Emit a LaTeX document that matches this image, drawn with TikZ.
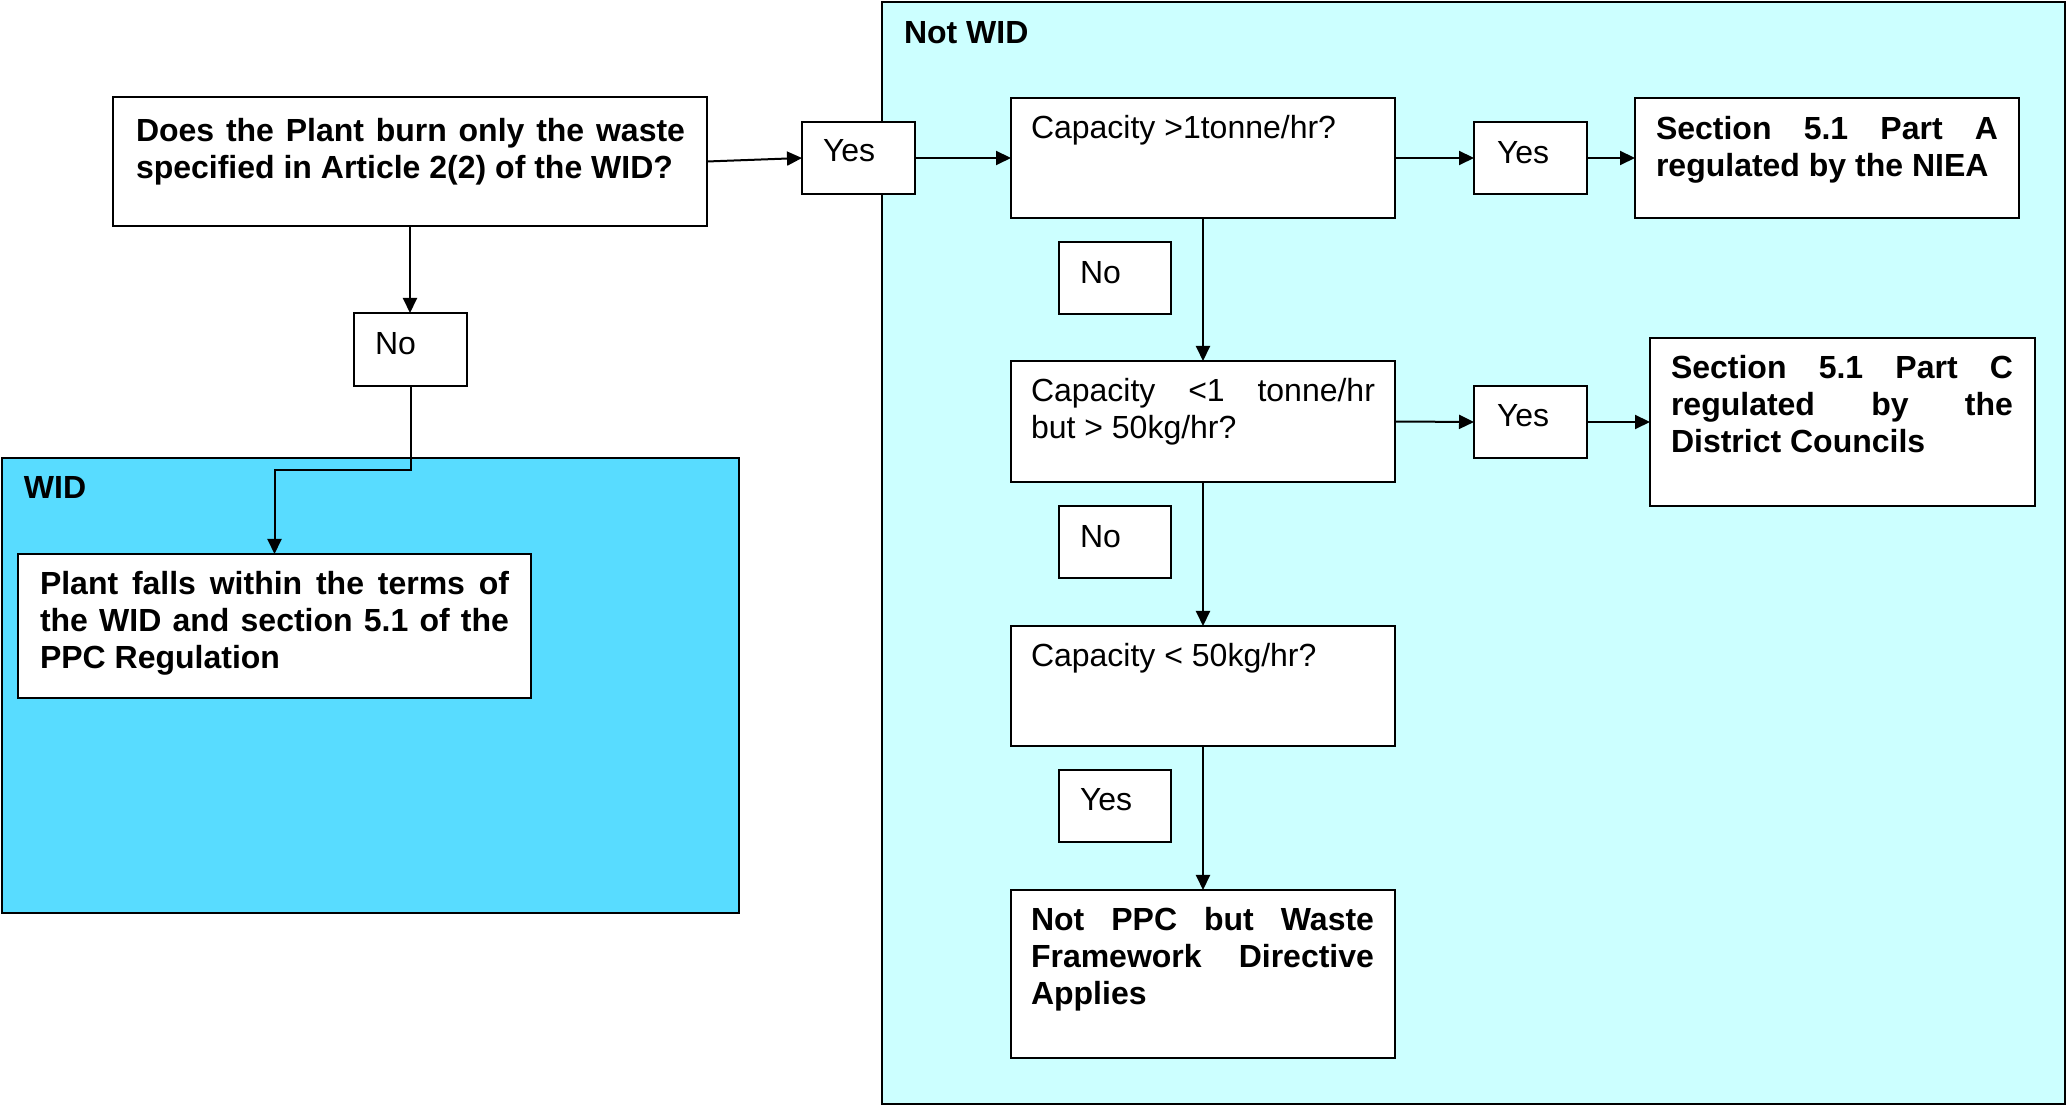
\documentclass[tikz,border=0pt]{standalone}
\usepackage{fontspec}
\setmainfont{Liberation Sans}
\usetikzlibrary{arrows.meta}
\definecolor{widfill}{RGB}{88,220,255}
\definecolor{notwidfill}{RGB}{204,255,255}
\tikzset{
  panel/.style={draw=black, line width=1.2pt, inner sep=0pt, outer sep=0pt},
  card/.style={draw=black, fill=white, line width=1.2pt, inner sep=0pt, outer sep=0pt},
  lbl/.style={anchor=base west, inner sep=0pt, outer sep=0pt, font=\fontsize{16}{18.5}\selectfont},
  lblb/.style={lbl, font=\fontsize{16}{18.5}\selectfont\bfseries},
  para/.style={text width={#1*0.5pt}, align=justify},
  flow/.style={-{Triangle[length=7.5pt,width=7pt]}, line width=1pt},
}
% box given by its top-left and bottom-right corners
\newcommand\rectnode[6]{%
  \node[#1, anchor=north west, minimum width={(#5-#3)*0.5pt}, minimum height={(#6-#4)*0.5pt}] (#2) at (#3,#4) {};}
\begin{document}
\begin{tikzpicture}[x=0.5pt,y=-0.5pt]
\useasboundingbox (0,0) rectangle (2069,1106);
\fill[white] (0,0) rectangle (2069,1106);

% regions
\rectnode{panel, fill=notwidfill}{notwid}{882}{2}{2065}{1104}
\rectnode{panel, fill=widfill}{wid}{2}{458}{739}{913}

% boxes
\rectnode{card}{q}{113}{97}{707}{226}
\rectnode{card}{yesA}{802}{122}{915}{194}
\rectnode{card}{noA}{354}{313}{467}{386}
\rectnode{card}{plant}{18}{554}{531}{698}
\rectnode{card}{capA}{1011}{98}{1395}{218}
\rectnode{card}{yesB}{1474}{122}{1587}{194}
\rectnode{card}{partA}{1635}{98}{2019}{218}
\rectnode{card}{noB}{1059}{242}{1171}{314}
\rectnode{card}{capB}{1011}{361}{1395}{482}
\rectnode{card}{yesC}{1474}{386}{1587}{458}
\rectnode{card}{partC}{1650}{338}{2035}{506}
\rectnode{card}{noC}{1059}{506}{1171}{578}
\rectnode{card}{capC}{1011}{626}{1395}{746}
\rectnode{card}{yesD}{1059}{770}{1171}{842}
\rectnode{card}{final}{1011}{890}{1395}{1058}

% texts
\node[lblb] (notwidT) at (904,44) {Not WID};
\node[lblb] (widT) at (24,499) {WID};
\node[lblb, para=549] (qT) at (136,142) {Does the Plant burn only the waste\linebreak specified in Article 2(2) of the WID?};
\node[lbl] (yesAT) at (823,162) {Yes};
\node[lbl] (noAT) at (375,355) {No};
\node[lblb, para=469] (plantT) at (40,595) {Plant falls within the terms of\linebreak the WID and section 5.1 of the\linebreak PPC Regulation};
\node[lbl] (capAT) at (1031,139) {Capacity >1tonne/hr?};
\node[lbl] (yesBT) at (1497,164) {Yes};
\node[lblb, para=342] (partAT) at (1656,140) {Section 5.1 Part A\linebreak regulated by the NIEA};
\node[lbl] (noBT) at (1080,284) {No};
\node[lbl, para=344] (capBT) at (1031,402) {Capacity <1 tonne/hr\linebreak but > 50kg/hr?};
\node[lbl] (yesCT) at (1497,427) {Yes};
\node[lblb, para=342] (partCT) at (1671,379) {Section 5.1 Part C\linebreak regulated by the\linebreak District Councils};
\node[lbl] (noCT) at (1080,548) {No};
\node[lbl] (capCT) at (1031,667) {Capacity < 50kg/hr?};
\node[lbl] (yesDT) at (1080,811) {Yes};
\node[lblb, para=343] (finalT) at (1031,931) {Not PPC but Waste\linebreak Framework Directive\linebreak Applies};

% connectors
\draw[flow] (q.east) -- (yesA.west);
\draw[flow] (yesA.east) -- (capA.west);
\draw[flow] (capA.east) -- (yesB.west);
\draw[flow] (yesB.east) -- (partA.west);
\draw[flow] (capA.south) -- (capB.north);
\draw[flow] (capB.east) -- (yesC.west);
\draw[flow] (yesC.east) -- (partC.west);
\draw[flow] (capB.south) -- (capC.north);
\draw[flow] (capC.south) -- (final.north);
\draw[flow] (q.south) -- (q.south |- noA.north);
\coordinate (elbow) at (274.5,470);
\draw[flow] (noA.south) |- (elbow) -- (plant.north);
\end{tikzpicture}
\end{document}
